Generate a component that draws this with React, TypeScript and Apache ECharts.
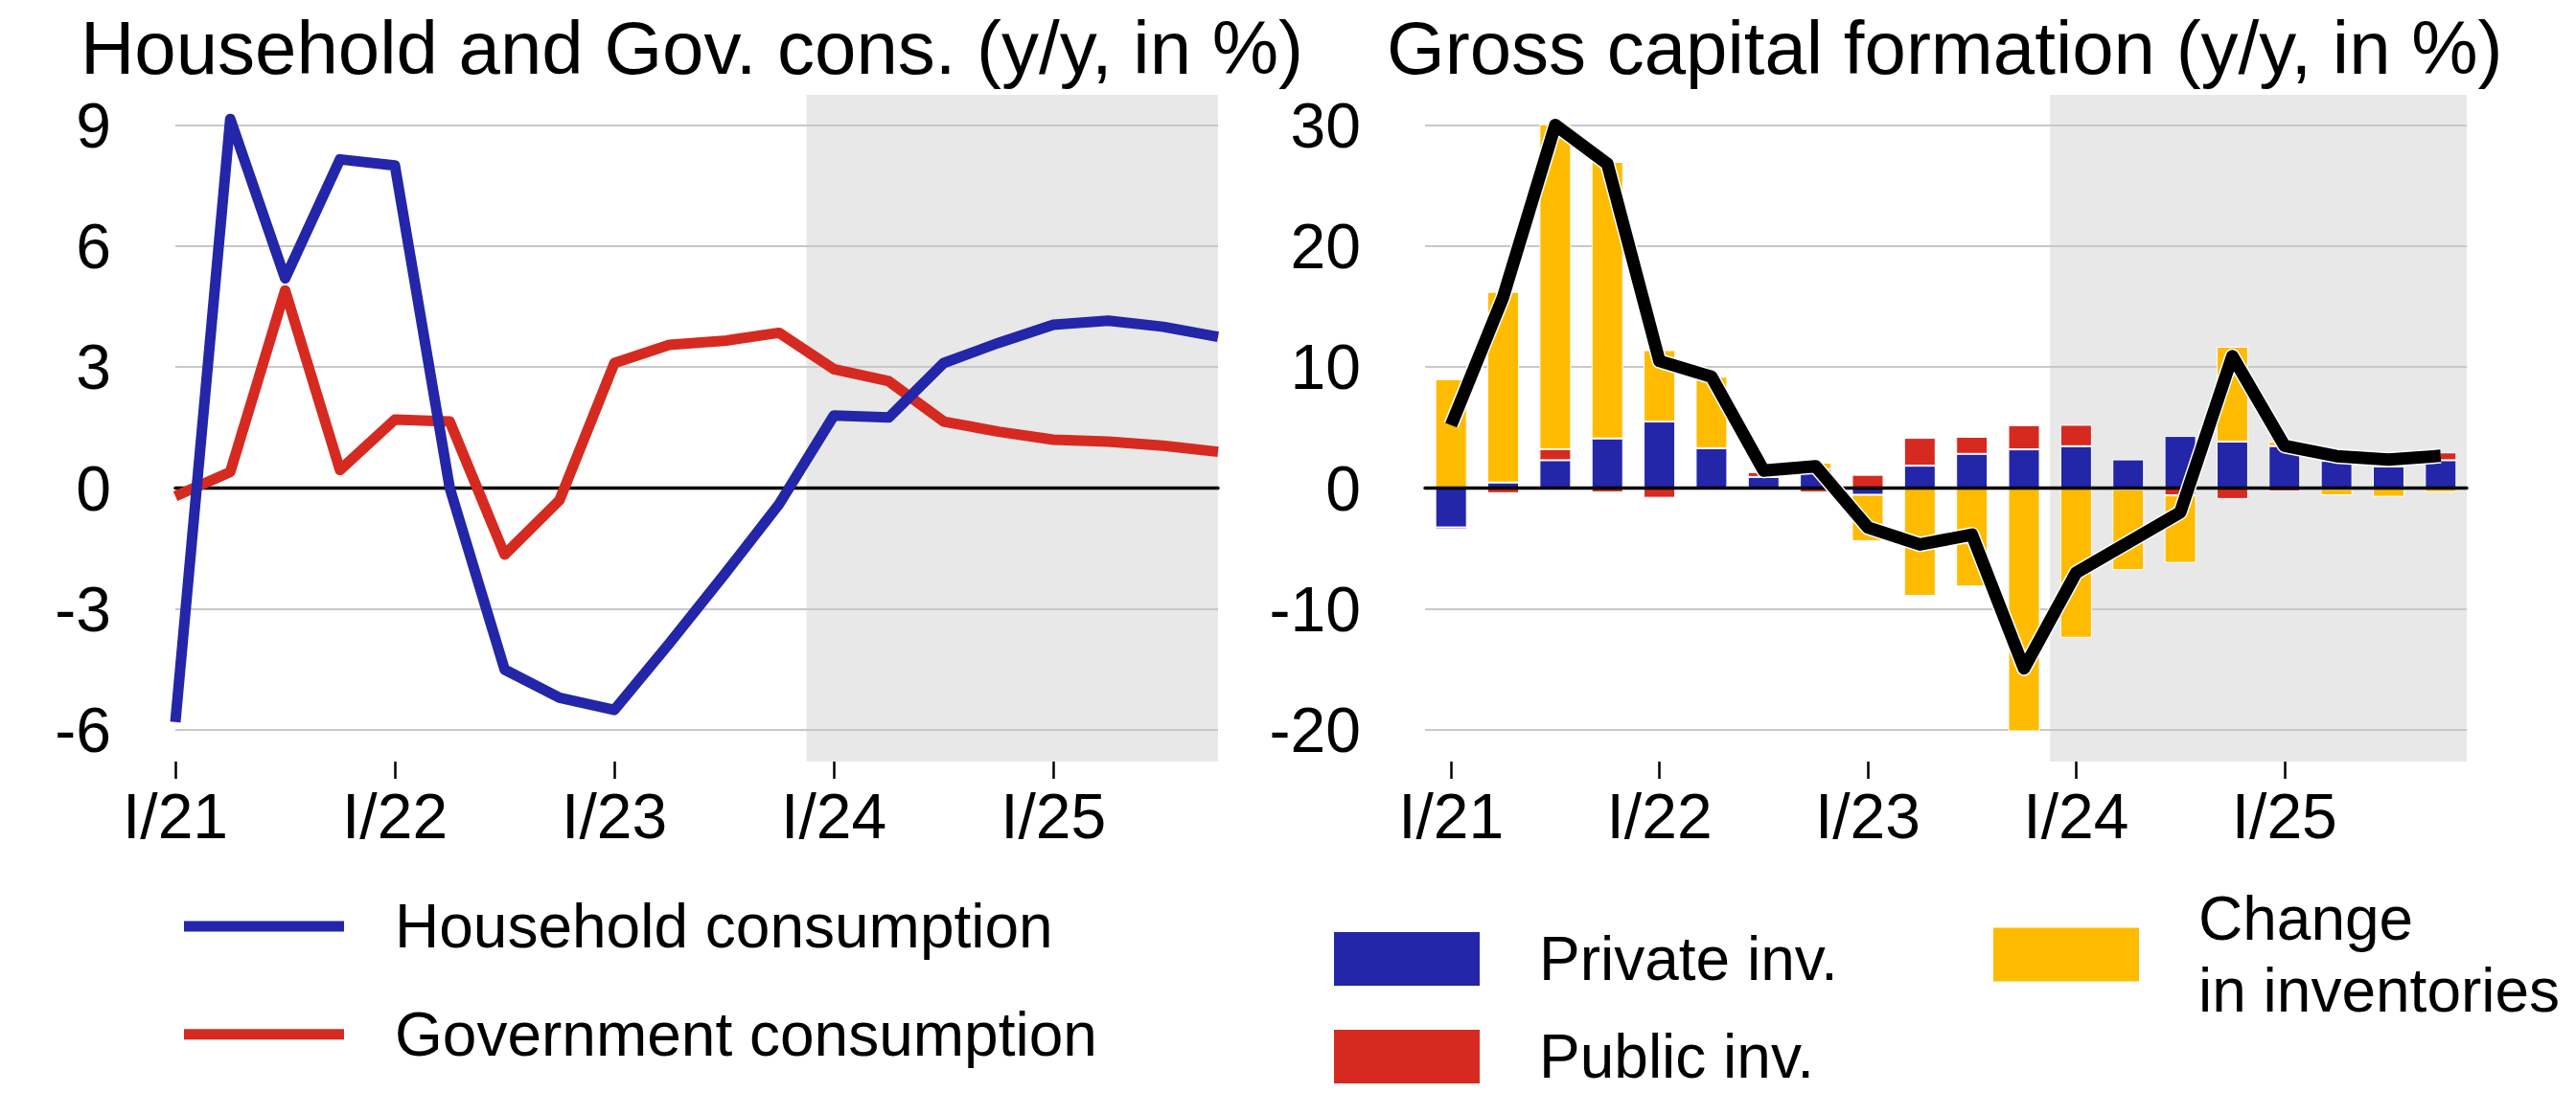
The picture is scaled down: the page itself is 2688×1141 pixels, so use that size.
import React, { useEffect, useRef } from 'react';
import * as echarts from 'echarts';

// ---------- data ----------
const QUARTERS = [
  'I/21', 'II/21', 'III/21', 'IV/21',
  'I/22', 'II/22', 'III/22', 'IV/22',
  'I/23', 'II/23', 'III/23', 'IV/23',
  'I/24', 'II/24', 'III/24', 'IV/24',
  'I/25', 'II/25', 'III/25', 'IV/25',
];

const HOUSEHOLD = [-5.8, 9.15, 5.2, 8.15, 8.0, 0.0, -4.5, -5.2, -5.5, -3.85, -2.15, -0.4, 1.8, 1.75, 3.1, 3.6, 4.05, 4.15, 4.0, 3.75];
const GOVERNMENT = [-0.2, 0.4, 4.9, 0.45, 1.7, 1.65, -1.65, -0.3, 3.1, 3.55, 3.65, 3.85, 2.95, 2.65, 1.65, 1.4, 1.2, 1.15, 1.05, 0.9];

const PRIVATE_INV = [-3.25, 0.46, 2.3, 4.1, 5.5, 3.3, 0.92, 1.55, -0.55, 1.85, 2.83, 3.2, 3.46, 2.37, 4.31, 3.84, 3.47, 2.25, 1.8, 2.3];
const PUBLIC_INV = [-0.18, -0.42, 0.92, -0.35, -0.8, 0, 0.4, -0.35, 1.1, 2.3, 1.41, 2.0, 1.77, -0.1, -0.6, -0.9, -0.27, -0.08, 0, 0.65];
const INVENTORIES = [9.0, 15.76, 26.85, 22.86, 5.9, 5.9, 0.13, 0.55, -3.83, -8.9, -8.13, -20.1, -12.37, -6.68, -5.58, 7.84, 0.36, -0.52, -0.72, -0.33];
const GCF_TOTAL = [5.2, 15.8, 30.0, 26.8, 10.5, 9.2, 1.45, 1.8, -3.25, -4.66, -3.85, -14.9, -7.0, -4.5, -2.0, 10.9, 3.5, 2.64, 2.35, 2.67];

const LEFT_TICKS = [-6, -3, 0, 3, 6, 9];
const RIGHT_TICKS = [-20, -10, 0, 10, 20, 30];

const LEFT_MIN = -6.78;
const LEFT_MAX = 9.75;
const RIGHT_MIN = -22.6;
const RIGHT_MAX = 32.5;

// forecast shading begins between IV/23 and I/24 (category index 11.5)
const SHADE_START = 11.5;

// ---------- styles ----------
const FONT = "'Liberation Sans', Arial, Helvetica, sans-serif";
const BLUE = '#2326A8';
const RED = '#D62A20';
const YELLOW = '#FFBB00';
const SHADE = '#E8E8E8';
const GRIDLINE = '#C8C8C8';

const tickLabel = { color: '#000', fontSize: 66, fontFamily: FONT };
const titleStyle = { color: '#000', fontSize: 78, fontWeight: 'normal' as const, fontFamily: FONT };
const legendText = { color: '#000', fontSize: 64, fontFamily: FONT };

function categoryAxis(gridIndex: number, boundaryGap: boolean) {
  return {
    gridIndex,
    type: 'category',
    data: QUARTERS,
    boundaryGap,
    position: 'bottom',
    axisLine: { show: false, onZero: false },
    axisTick: { show: true, interval: 3, alignWithLabel: true, length: 18, lineStyle: { color: '#000', width: 2.5 } },
    axisLabel: { ...tickLabel, interval: 3, margin: 24 },
    splitLine: { show: false },
  };
}

function zeroAxis(gridIndex: number, min: number, max: number, z: number) {
  return {
    gridIndex,
    type: 'value',
    min,
    max,
    z,
    axisLine: { show: true, onZero: true, lineStyle: { color: '#000', width: 3.4 } },
    axisTick: { show: false },
    axisLabel: { show: false },
    splitLine: { show: false },
  };
}

function valueAxis(gridIndex: number, min: number, max: number, ticks: number[]) {
  return {
    gridIndex,
    type: 'value',
    min,
    max,
    z: 1.5,
    axisLine: { show: false },
    axisTick: { show: false, customValues: ticks },
    axisLabel: { ...tickLabel, customValues: ticks, margin: 67 },
    splitLine: { show: true, lineStyle: { color: GRIDLINE, width: 2 } },
  };
}

function barLegend(name: string, left: number, top: number, extra: any = {}) {
  return {
    data: [{ name, icon: 'rect' }],
    orient: 'vertical',
    left,
    top,
    height: 200,
    padding: 0,
    itemWidth: 154,
    itemHeight: 58,
    selectedMode: false,
    textStyle: { ...legendText, lineHeight: 58, padding: [0, 0, 0, 56] },
    ...extra,
  };
}

const option: any = {
  animation: false,
  backgroundColor: '#fff',
  title: [
    { text: 'Household and Gov. cons. (y/y, in %)', left: 84, top: 11, padding: 0, textStyle: titleStyle },
    { text: 'Gross capital formation (y/y, in %)', left: 1447, top: 11, padding: 0, textStyle: titleStyle },
  ],
  grid: [
    { left: 183, top: 99, width: 1088, height: 696, outerBoundsMode: 'none', containLabel: false },
    { left: 1487, top: 99, width: 1087, height: 696, outerBoundsMode: 'none', containLabel: false },
  ],
  xAxis: [
    categoryAxis(0, false),
    zeroAxis(0, 0, QUARTERS.length - 1, 1.8),
    categoryAxis(1, true),
    zeroAxis(1, -0.5, QUARTERS.length - 0.5, 2.5),
  ],
  yAxis: [
    valueAxis(0, LEFT_MIN, LEFT_MAX, LEFT_TICKS),
    valueAxis(1, RIGHT_MIN, RIGHT_MAX, RIGHT_TICKS),
  ],
  legend: [
    {
      data: [
        { name: 'Household consumption', icon: 'rect', itemStyle: { color: BLUE, borderWidth: 0 } },
        { name: 'Government consumption', icon: 'rect', itemStyle: { color: RED, borderWidth: 0 } },
      ],
      orient: 'vertical',
      left: 192,
      top: 935,
      height: 300,
      padding: 0,
      itemWidth: 167,
      itemHeight: 11,
      itemGap: 48.7,
      selectedMode: false,
      textStyle: { ...legendText, padding: [0, 0, 0, 48] },
    },
    barLegend('Private inv.', 1390, 969),
    barLegend('Public inv.', 1390, 1071),
    barLegend('Change in inventories', 2078, 921.6, {
      formatter: () => 'Change\nin inventories',
      textStyle: { ...legendText, lineHeight: 75, padding: [0, 0, 0, 56] },
    }),
  ],
  series: [
    // left panel: forecast shading
    {
      type: 'line',
      xAxisIndex: 1,
      yAxisIndex: 0,
      data: [],
      z: 1,
      silent: true,
      markArea: {
        silent: true,
        itemStyle: { color: SHADE },
        data: [[{ xAxis: SHADE_START }, { xAxis: QUARTERS.length - 1 }]],
      },
    },
    {
      name: 'Government consumption',
      type: 'line',
      xAxisIndex: 0,
      yAxisIndex: 0,
      data: GOVERNMENT,
      symbol: 'none',
      z: 2,
      itemStyle: { color: RED },
      lineStyle: { color: RED, width: 11, join: 'round' },
    },
    {
      name: 'Household consumption',
      type: 'line',
      xAxisIndex: 0,
      yAxisIndex: 0,
      data: HOUSEHOLD,
      symbol: 'none',
      z: 3,
      itemStyle: { color: BLUE },
      lineStyle: { color: BLUE, width: 11, join: 'round' },
    },
    // right panel: forecast shading
    {
      type: 'line',
      xAxisIndex: 3,
      yAxisIndex: 1,
      data: [],
      z: 1,
      silent: true,
      markArea: {
        silent: true,
        itemStyle: { color: SHADE },
        data: [[{ xAxis: SHADE_START }, { xAxis: QUARTERS.length - 0.5 }]],
      },
    },
    {
      name: 'Private inv.',
      type: 'bar',
      xAxisIndex: 2,
      yAxisIndex: 1,
      stack: 'gcf',
      data: PRIVATE_INV,
      barWidth: 33,
      z: 2,
      itemStyle: { color: BLUE, borderColor: '#fff', borderWidth: 1 },
    },
    {
      name: 'Public inv.',
      type: 'bar',
      xAxisIndex: 2,
      yAxisIndex: 1,
      stack: 'gcf',
      data: PUBLIC_INV,
      barWidth: 33,
      z: 2,
      itemStyle: { color: RED, borderColor: '#fff', borderWidth: 1 },
    },
    {
      name: 'Change in inventories',
      type: 'bar',
      xAxisIndex: 2,
      yAxisIndex: 1,
      stack: 'gcf',
      data: INVENTORIES,
      barWidth: 33,
      z: 2,
      itemStyle: { color: YELLOW, borderColor: '#fff', borderWidth: 1 },
    },
    {
      name: 'gcf-outline',
      type: 'line',
      xAxisIndex: 2,
      yAxisIndex: 1,
      data: GCF_TOTAL,
      symbol: 'none',
      z: 3,
      silent: true,
      lineStyle: { color: '#fff', width: 16, join: 'round' },
    },
    {
      name: 'Gross capital formation',
      type: 'line',
      xAxisIndex: 2,
      yAxisIndex: 1,
      data: GCF_TOTAL,
      symbol: 'none',
      z: 3.5,
      itemStyle: { color: '#000' },
      lineStyle: { color: '#000', width: 13, join: 'round' },
    },
  ],
};

export default function App() {
  const ref = useRef<HTMLDivElement>(null);
  useEffect(() => {
    if (!ref.current) return;
    const chart = echarts.init(ref.current, null, { renderer: 'svg' });
    chart.setOption(option);
    return () => chart.dispose();
  }, []);
  return (
    <div
      ref={ref}
      style={{ position: 'absolute', left: 0, top: 0, width: 2688, height: 1141, background: '#fff' }}
    />
  );
}
